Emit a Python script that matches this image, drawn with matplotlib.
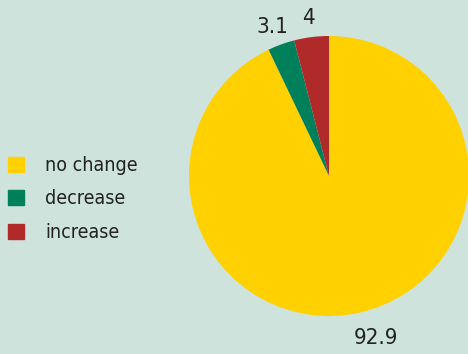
import matplotlib
matplotlib.use("Agg")
import matplotlib.pyplot as plt
import numpy as np

categories = ["no change", "decrease", "increase"]
values = [92.9, 3.1, 4]
value_labels = ["92.9", "3.1", "4"]
colors = ["#FFD100", "#00805A", "#B02A2A"]

# label placement: radius (in pie radii) and angular nudge (degrees)
label_radius = [1.205, 1.14, 1.14]
label_shift = [3.4, 0.9, 0.2]

bg = "#CFE3DD"
plt.rcParams['font.family'] = ['DejaVu Sans']
plt.rcParams['font.stretch'] = 'condensed'

fig = plt.figure(figsize=(4.68, 3.54), dpi=100, facecolor=bg)

# pie centred at (329, 176) px with radius 140 px
W, H = 468, 354
cx, cy, r = 329, 176, 140
ax = fig.add_axes([(cx - r) / W, (H - cy - r) / H, 2 * r / W, 2 * r / H])
ax.set_facecolor(bg)

wedges, _ = ax.pie(values, colors=colors, startangle=90, counterclock=False,
                   wedgeprops=dict(linewidth=0))
ax.set_xlim(-1, 1)
ax.set_ylim(-1, 1)
ax.set_aspect('equal')

for w, txt, d, s in zip(wedges, value_labels, label_radius, label_shift):
    ang = np.deg2rad((w.theta1 + w.theta2) / 2 + s)
    ax.text(d * np.cos(ang), d * np.sin(ang), txt, ha='center', va='center',
            fontsize=16, color='#222222', clip_on=False)

handles = [plt.Rectangle((0, 0), 1, 1, color=c) for c in colors]
leg = fig.legend(handles, categories, loc='center left', bbox_to_anchor=(0.0, 0.438),
                 frameon=False, fontsize=14, handlelength=0.82, handleheight=0.82,
                 handletextpad=1.1, labelspacing=0.75, borderaxespad=0.0)
for t in leg.get_texts():
    t.set_color('#222222')

fig.savefig("out.png", dpi=100, facecolor=bg)
